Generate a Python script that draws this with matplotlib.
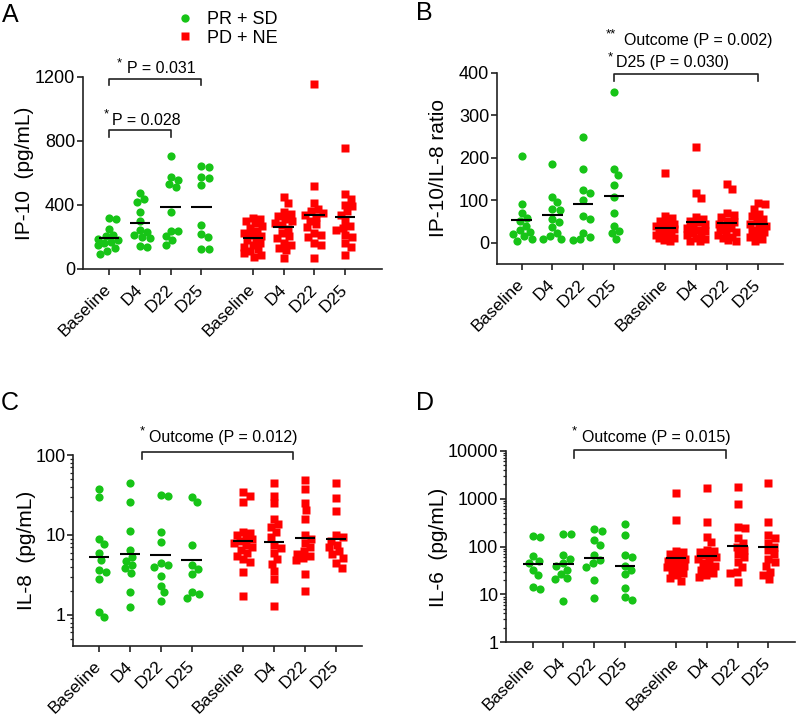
import numpy as np
import matplotlib
matplotlib.use('Agg')
import matplotlib.pyplot as plt
from matplotlib.lines import Line2D
from matplotlib.ticker import LogLocator, NullFormatter

plt.rcParams['font.family'] = ['Liberation Sans', 'DejaVu Sans']

W, H, DPI = 796, 717, 100

categories = ['Baseline', 'D4', 'D22', 'D25']
group_names = ['PR + SD', 'PD + NE']

# ---------------- Panel A: IP-10 (pg/mL) ----------------
ip10_resp = [
    [321, 311, 252, 215, 205, 190, 180, 170, 160, 150, 130, 115, 95],
    [473, 436, 417, 356, 302, 244, 233, 210, 198, 192, 146, 140],
    [708, 575, 558, 530, 512, 356, 240, 235, 204, 179, 152],
    [635, 642, 569, 573, 523, 277, 219, 200, 125, 125],
]
ip10_prog = [
    [317, 310, 300, 285, 270, 255, 240, 225, 215, 205, 195, 180, 165, 150, 140, 125, 110, 100, 85, 73],
    [452, 415, 358, 345, 330, 315, 300, 290, 275, 250, 225, 205, 195, 165, 150, 130, 120, 67],
    [1158, 517, 412, 375, 360, 350, 340, 325, 300, 280, 260, 225, 210, 202, 160, 152, 67],
    [754, 467, 440, 402, 392, 360, 340, 300, 269, 258, 246, 212, 200, 164, 139, 87],
]
ip10_resp_mean = [196, 285, 387, 387]
ip10_prog_mean = [196, 260, 340, 325]

# ---------------- Panel B: IP-10/IL-8 ratio ----------------
ratio_resp = [
    [204, 90, 71, 58, 50, 40, 30, 25, 20, 15, 8, 5],
    [185, 108, 95, 80, 78, 57, 49, 38, 24, 15, 9, 9],
    [249, 173, 124, 118, 100, 63, 56, 24, 14, 8, 6],
    [355, 173, 159, 136, 108, 70, 40, 28, 23, 8],
]
ratio_prog = [
    [163, 64, 58, 52, 50, 45, 40, 38, 35, 32, 30, 27, 24, 20, 18, 15, 12, 10, 7, 4],
    [225, 118, 106, 60, 55, 52, 48, 45, 40, 35, 30, 27, 22, 18, 15, 12, 8, 5, 3],
    [138, 126, 69, 65, 60, 52, 48, 44, 40, 35, 30, 26, 22, 18, 14, 10, 7, 4],
    [94, 90, 80, 68, 62, 55, 50, 45, 40, 35, 30, 25, 20, 14, 8, 3],
]
ratio_resp_mean = [53, 65, 91, 111]
ratio_prog_mean = [35, 49, 47, 45]

# ---------------- Panel C: IL-8 (pg/mL) ----------------
il8_resp = [
    [38, 30, 8.9, 7.7, 6.0, 4.9, 3.6, 3.4, 2.8, 1.08, 0.93],
    [44, 26, 11.2, 6.5, 5.3, 4.7, 4.2, 3.8, 3.3, 1.9, 1.25],
    [32, 31, 11, 8.2, 4.5, 4.2, 4.0, 3.1, 2.3, 1.9, 1.5],
    [30, 26, 7.5, 4.2, 3.7, 3.2, 1.9, 1.8, 1.6],
]
il8_prog = [
    [34, 31, 26, 11, 10.5, 10, 9.5, 9, 8.5, 8, 7.5, 7, 6.5, 6, 5.5, 5, 4.6, 3.4, 1.7],
    [45, 31, 25, 16, 13.5, 12.7, 11, 9.5, 7.5, 6.8, 6, 5, 4.3, 3.5, 2.8, 1.3],
    [48, 37, 25, 20.5, 15.7, 10, 9, 8, 7, 6.2, 5.8, 5.5, 5.2, 4.8, 3.2, 2.0],
    [45, 29, 20, 10, 9.5, 8.5, 7.5, 7, 6.2, 5.8, 5.2, 4.4, 3.9],
]
il8_resp_mean = [5.3, 5.8, 5.6, 4.8]
il8_prog_mean = [8.4, 8.2, 9.1, 8.9]

# ---------------- Panel D: IL-6 (pg/mL) ----------------
il6_resp = [
    [169, 155, 62, 50, 45, 32, 25, 14.5, 12.8],
    [183, 180, 65, 54, 45, 40, 33, 27, 22, 21, 7.4],
    [232, 214, 137, 108, 65, 52, 45, 38, 20, 8.3],
    [295, 174, 65, 60, 40, 33, 27, 13.8, 9, 7.7],
]
il6_prog = [
    [1290, 360, 80, 75, 70, 65, 60, 55, 50, 47, 44, 40, 37, 34, 31, 28, 25, 22, 19],
    [1640, 330, 161, 122, 85, 80, 75, 70, 65, 60, 55, 50, 45, 40, 36, 32, 28, 25, 23],
    [1780, 773, 250, 240, 150, 120, 100, 85, 70, 60, 48, 37, 30, 28, 18],
    [2150, 320, 174, 148, 120, 100, 85, 70, 55, 48, 40, 30, 26, 21],
]
il6_resp_mean = [43, 43, 58, 40]
il6_prog_mean = [58, 64, 104, 99]

GREEN = '#17c417'
RED = '#ff0000'
GROUP_GAP = 4.67
xpos_resp = np.arange(4, dtype=float)
xpos_prog = np.arange(4, dtype=float) + GROUP_GAP
xpos_all = np.concatenate([xpos_resp, xpos_prog])

fig = plt.figure(figsize=(W / DPI, H / DPI), dpi=DPI)


def make_ax(l, t, r, b):
    return fig.add_axes([l / W, 1 - b / H, (r - l) / W, (b - t) / H])


def swarm(ax, xc, vals, diam=7.6, maxoff=12.0):
    vals = np.asarray(vals, dtype=float)
    pts = ax.transData.transform(np.column_stack([np.full(len(vals), xc), vals]))
    ys = pts[:, 1]
    x0 = pts[0, 0]
    order = np.argsort(-ys)
    cands = [0.0]
    k = 1
    while k * 0.5 <= maxoff:
        cands += [k * 0.5, -k * 0.5]
        k += 1
    placed = []
    xs = np.zeros(len(vals))
    for i in order:
        chosen = None
        bestd, bestc = -1, 0.0
        for c in cands:
            if not placed:
                chosen = c
                break
            d = min(np.hypot(c - px, ys[i] - py) for px, py in placed)
            if d >= diam:
                chosen = c
                break
            if d > bestd:
                bestd, bestc = d, c
        if chosen is None:
            chosen = bestc
        placed.append((chosen, ys[i]))
        xs[i] = x0 + chosen
    return ax.transData.inverted().transform(np.column_stack([xs, ys]))[:, 0]


def style_ax(ax, xlim, ylim, log=False):
    if log:
        ax.set_yscale('log')
    ax.set_xlim(*xlim)
    ax.set_ylim(*ylim)
    for s in ['top', 'right']:
        ax.spines[s].set_visible(False)
    for s in ['left', 'bottom']:
        ax.spines[s].set_linewidth(1.2)
        ax.spines[s].set_color('#222222')
    ax.set_xticks(xpos_all)
    ax.set_xticklabels(categories * 2, rotation=45, ha='right', va='center',
                       rotation_mode='anchor', fontsize=12.5)
    ax.tick_params(axis='x', length=4, width=1.2, pad=9, color='#222222')
    ax.tick_params(axis='y', which='major', length=4.5, width=1.2, pad=1,
                   labelsize=13, color='#222222')
    ax.tick_params(axis='y', which='minor', length=2.5, width=0.9, color='#222222')


def draw_groups(ax, resp, prog, resp_mean, prog_mean):
    for i in range(4):
        xs = swarm(ax, xpos_resp[i], resp[i], diam=7.4, maxoff=10.5)
        ax.plot(xs, resp[i], 'o', ms=5.9, color=GREEN, mec='none', zorder=2, clip_on=False)
        ax.hlines(resp_mean[i], xpos_resp[i] - 0.33, xpos_resp[i] + 0.33,
                  color='black', lw=1.5, zorder=3)
        xs = swarm(ax, xpos_prog[i], prog[i], diam=7.0, maxoff=9.0)
        ax.plot(xs, prog[i], 's', ms=6.1, color=RED, mec='none', zorder=2, clip_on=False)
        ax.hlines(prog_mean[i], xpos_prog[i] - 0.33, xpos_prog[i] + 0.33,
                  color='black', lw=1.5, zorder=3)


def bracket(ax, x1, x2, y, ydrop):
    ax.plot([x1, x1, x2, x2], [ydrop, y, y, ydrop], color='#222222', lw=1.2,
            clip_on=False, zorder=4)


def annot(ax, sx, sy, stars, tx, ty, text):
    ax.text(sx, sy, stars, fontsize=9.5, ha='left', va='center', clip_on=False)
    ax.text(tx, ty, text, fontsize=11.5, ha='left', va='center', clip_on=False)


def ylab(xpx, ypx, text):
    fig.text(xpx / W, 1 - ypx / H, text, rotation=90, ha='center', va='center', fontsize=15)


def letter(xpx, ypx, text):
    fig.text(xpx / W, 1 - ypx / H, text, ha='left', va='center', fontsize=18)


# ---- A ----
axA = make_ax(83, 77, 382, 269)
style_ax(axA, (-0.84, 8.86), (0, 1200))
axA.set_yticks([0, 400, 800, 1200])
draw_groups(axA, ip10_resp, ip10_prog, ip10_resp_mean, ip10_prog_mean)
bracket(axA, 0, 3, 1190, 1150)
annot(axA, 0.26, 1287, '*', 0.60, 1250, 'P = 0.031')
bracket(axA, 0, 2, 869, 825)
annot(axA, -0.17, 969, '*', 0.10, 931, 'P = 0.028')
ylab(24, 173, 'IP-10  (pg/mL)')
letter(2, 15, 'A')

# ---- B ----
axB = make_ax(497, 72.7, 783, 264)
style_ax(axB, (-0.80, 8.49), (-50, 400))
axB.spines['left'].set_bounds(-50, 400)
axB.set_yticks([0, 100, 200, 300, 400])
draw_groups(axB, ratio_resp, ratio_prog, ratio_resp_mean, ratio_prog_mean)
bracket(axB, 3, 3 + GROUP_GAP, 397, 381)
annot(axB, 2.72, 489, '**', 3.32, 475, 'Outcome (P = 0.002)')
annot(axB, 2.80, 435, '*', 3.07, 424, 'D25 (P = 0.030)')
ylab(438, 168, 'IP-10/IL-8 ratio')
letter(416, 13, 'B')

# ---- C ----
axC = make_ax(73.3, 455, 361.7, 645.7)
style_ax(axC, (-0.83, 8.51), (0.41, 100), log=True)
axC.set_yticks([1, 10, 100])
axC.set_yticklabels(['1', '10', '100'])
axC.yaxis.set_minor_locator(LogLocator(base=10, subs=np.arange(2, 10)))
axC.yaxis.set_minor_formatter(NullFormatter())
draw_groups(axC, il8_resp, il8_prog, il8_resp_mean, il8_prog_mean)
bracket(axC, 1.39, 6.29, 110, 88)
annot(axC, 1.33, 196, '*', 1.63, 167, 'Outcome (P = 0.012)')
ylab(26, 550, 'IL-8  (pg/mL)')
letter(1, 403, 'C')

# ---- D ----
axD = make_ax(506, 450.7, 795, 642.3)
style_ax(axD, (-0.87, 8.54), (1, 10000), log=True)
axD.set_yticks([1, 10, 100, 1000, 10000])
axD.set_yticklabels(['1', '10', '100', '1000', '10000'])
axD.yaxis.set_minor_locator(LogLocator(base=10, subs=np.arange(2, 10)))
axD.yaxis.set_minor_formatter(NullFormatter())
draw_groups(axD, il6_resp, il6_prog, il6_resp_mean, il6_prog_mean)
bracket(axD, 1.34, 6.28, 10350, 6930)
annot(axD, 1.27, 24900, '*', 1.59, 19000, 'Outcome (P = 0.015)')
ylab(439, 547, 'IL-6  (pg/mL)')
letter(416, 403, 'D')

# ---- legend ----
handles = [Line2D([], [], marker='o', ls='none', color=GREEN, mec='none', ms=6.0),
           Line2D([], [], marker='s', ls='none', color=RED, mec='none', ms=6.0)]
fig.legend(handles, group_names, loc='upper left', bbox_to_anchor=(176 / W, 1 - 11 / H),
           frameon=False, fontsize=13, borderpad=0, handlelength=1.0,
           handletextpad=0.72, labelspacing=0.1, borderaxespad=0)

fig.savefig('out.png', dpi=DPI)
